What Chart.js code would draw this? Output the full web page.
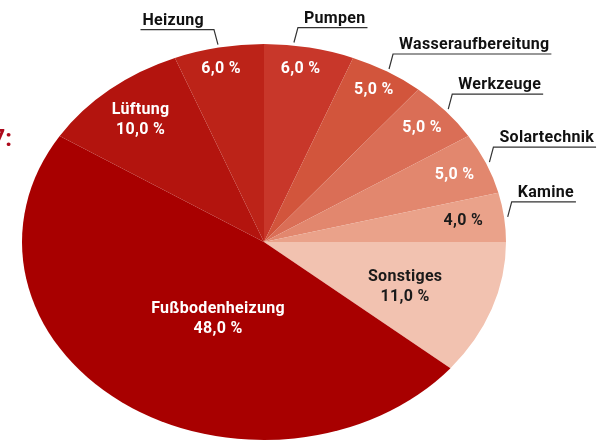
<!DOCTYPE html>
<html>
<head>
<meta charset="utf-8">
<script src="https://cdn.jsdelivr.net/npm/chart.js@4/dist/chart.umd.min.js"></script>
<style>
  html, body { margin: 0; padding: 0; background: #fff; overflow: hidden; }
  canvas { display: block; }
</style>
</head>
<body>
<canvas id="myChart" width="600" height="441"></canvas>
<script>
// Anteile nach Bereich, im Uhrzeigersinn ab 12 Uhr
const categories = ['Pumpen', 'Wasseraufbereitung', 'Werkzeuge', 'Solartechnik', 'Kamine', 'Sonstiges', 'Fußbodenheizung', 'Lüftung', 'Heizung'];
const shares = [6, 5, 5, 5, 4, 11, 48, 10, 6];

const sliceColors = ['#c8372a', '#d2553c', '#da6e56', '#e2876e', '#eaa28a', '#f2c2b0', '#a80000', '#b3140e', '#bc2318'];
const valueColors = ['#fff', '#fff', '#fff', '#fff', '#1a1a1a', '#1a1a1a', '#fff', '#fff', '#fff'];
// Position der Werte im Segment: [Winkelversatz in Grad, Radiusanteil]
const valuePos = [[-1, 0.887], [0, 0.892], [0, 0.871], [0, 0.858], [0, 0.83], [1.5, 0.626], [-10, 0.433], [0, 0.80], [-0.7, 0.892]];
// Winkelversatz der Hinweislinien
const leaderShift = [-3.8, 0, 0, 0, 0, 0, 0, 0, 0];

const stretch = 242 / 198;
const font = 'bold 16px Roboto';

const fmt = v => v.toFixed(1).replace('.', ',') + ' %';

const ellipse = {
  id: 'ellipse',
  beforeDatasetsDraw(chart) {
    const arc = chart.getDatasetMeta(0).data[0];
    const ctx = chart.ctx;
    ctx.save();
    ctx.translate(arc.x, 0);
    ctx.scale(stretch, 1);
    ctx.translate(-arc.x, 0);
  },
  afterDatasetsDraw(chart) {
    chart.ctx.restore();
  }
};

const labels = {
  id: 'labels',
  afterDraw(chart) {
    const ctx = chart.ctx;
    const arcs = chart.getDatasetMeta(0).data;
    ctx.save();
    ctx.font = font;
    ctx.letterSpacing = '0.3px';
    ctx.textBaseline = 'middle';
    ctx.textAlign = 'center';

    arcs.forEach((arc, i) => {
      const r = arc.outerRadius;
      const mid = (arc.startAngle + arc.endAngle) / 2;
      const inside = shares[i] >= 10;

      // Wert im Segment
      const a = mid + valuePos[i][0] * Math.PI / 180;
      const f = valuePos[i][1];
      const x = arc.x + Math.cos(a) * r * f * stretch;
      const y = arc.y + Math.sin(a) * r * f;
      ctx.fillStyle = valueColors[i];
      if (inside) {
        ctx.fillText(categories[i], x, y - 10);
        ctx.fillText(fmt(shares[i]), x, y + 10);
        return;
      }
      ctx.fillText(fmt(shares[i]), x, y);

      // Name außen mit Hinweislinie
      const la = mid + leaderShift[i] * Math.PI / 180;
      const ex = arc.x + Math.cos(la) * r * 1.015 * stretch;
      const ey = arc.y + Math.sin(la) * r * 1.015;
      const left = Math.cos(la) < 0;
      const kx = ex + (left ? -4 : 4);
      const ky = ey - 15;
      const w = ctx.measureText(categories[i]).width;
      ctx.strokeStyle = '#333';
      ctx.lineWidth = 1.2;
      ctx.beginPath();
      ctx.moveTo(ex, ey);
      ctx.lineTo(kx, ky);
      if (left) {
        ctx.lineTo(kx - 12 - w, ky);
      } else {
        ctx.lineTo(kx + 8 + w, ky);
      }
      ctx.stroke();
      ctx.fillStyle = '#111';
      ctx.textAlign = left ? 'right' : 'left';
      ctx.fillText(categories[i], left ? kx - 10 : kx + 6, ky - 9);
      ctx.textAlign = 'center';
    });

    // abgeschnittene Überschrift am linken Rand
    ctx.fillStyle = '#ad0a1c';
    ctx.font = 'bold 24px Roboto';
    ctx.letterSpacing = '0px';
    ctx.textAlign = 'right';
    ctx.textBaseline = 'alphabetic';
    ctx.fillText('2017:', 12, 146);
    ctx.restore();
  }
};

const ctx = document.getElementById('myChart').getContext('2d');
const myChart = new Chart(ctx, {
  type: 'pie',
  data: {
    labels: categories,
    datasets: [{
      data: shares,
      backgroundColor: sliceColors,
      borderWidth: 0
    }]
  },
  options: {
    responsive: false,
    animation: false,
    layout: { padding: { top: 44, bottom: 1, left: 66, right: 138 } },
    plugins: {
      legend: { display: false },
      tooltip: { enabled: false }
    }
  },
  plugins: [ellipse, labels]
});
</script>
</body>
</html>
